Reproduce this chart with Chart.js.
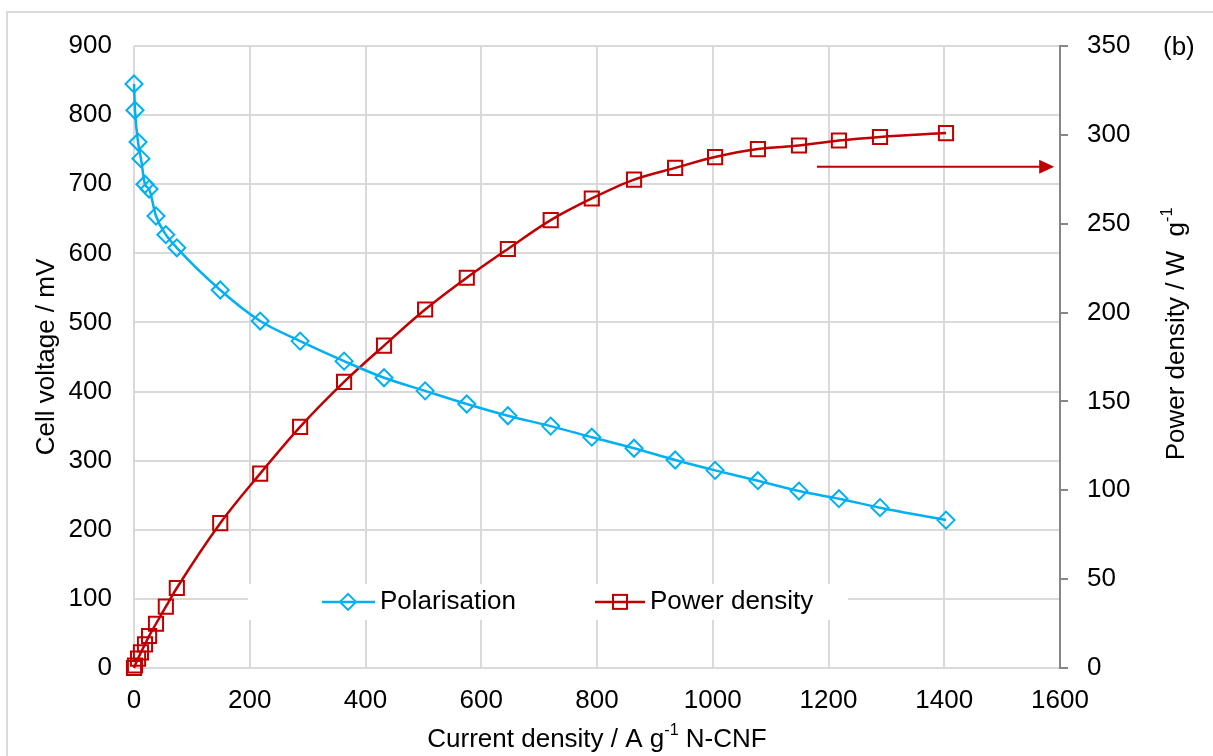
<!DOCTYPE html>
<html>
<head>
<meta charset="utf-8">
<script src="https://cdn.jsdelivr.net/npm/chart.js@4/dist/chart.umd.min.js"></script>
<style>
  body{margin:0;background:#fff;}
  canvas{display:block;}
</style>
</head>
<body>
<canvas id="chart" width="1213" height="756"></canvas>
<script>
// values
const currentDensity = [0, 1.7, 7, 12, 19, 26, 38, 55, 74, 149, 218, 287, 363, 432, 503, 575, 646, 720, 791, 864, 935, 1004, 1078, 1149, 1218, 1289, 1403];
const cellVoltage = [845, 807, 761, 737, 700, 693, 654, 627, 608, 547, 502, 473, 444, 420, 401, 382, 365, 350, 334, 318, 301, 286, 271, 256, 245, 232, 214];
const powerDensity = [0, 1.4, 5.3, 8.8, 13.3, 18.0, 24.9, 34.5, 45, 81.5, 109.4, 135.7, 161, 181.4, 201.7, 219.6, 235.8, 252, 264.2, 274.8, 281.4, 287.5, 292, 294, 296.8, 298.8, 301];

const xTicks = [0, 1600, 200];
const yTicks = [0, 900, 100];
const y1Ticks = [0, 350, 50];

const seriesNames = ["Polarisation", "Power density"];
const blue = "#00b0f0";
const red = "#c00000";
const font = "'Liberation Sans', Arial, sans-serif";
const fs = 26;

// arrow points to the right axis (x from / to, on right-axis value)
const arrowX = [1180, 1590];
const arrowY = 282;

function pts(ys){
    return currentDensity.map((x, i) => ({x: x, y: ys[i]}));
}

// text with "-1" superscript parts, centred on origin
function drawRich(ctx, parts, size){
    let total = 0;
    parts.forEach(p => {
        ctx.font = (p.sup ? size*0.62 : size) + "px " + font;
        total += ctx.measureText(p.t).width;
    });
    let x = -total/2;
    parts.forEach(p => {
        ctx.font = (p.sup ? size*0.62 : size) + "px " + font;
        ctx.fillText(p.t, x, p.sup ? -size*0.36 : 0);
        x += ctx.measureText(p.t).width;
    });
}

const extras = {
    id: "extras",
    beforeDraw(chart){
        const ctx = chart.ctx;
        ctx.save();
        ctx.fillStyle = "#fff";
        ctx.fillRect(0, 0, chart.width, chart.height);
        ctx.strokeStyle = "#d9d9d9";
        ctx.lineWidth = 2;
        ctx.strokeRect(7, 12, chart.width + 20, chart.height + 20);
        ctx.restore();
    },
    beforeDatasetsDraw(chart){
        const ctx = chart.ctx;
        const y = chart.scales.y;
        ctx.save();
        // legend box inside plot
        const ly = y.getPixelForValue(100) + 3;
        ctx.fillStyle = "#fff";
        ctx.fillRect(248, ly - 18, 600, 36);
        ctx.font = fs + "px " + font;
        ctx.textBaseline = "middle";
        ctx.lineWidth = 2.5;
        // polarisation item
        ctx.strokeStyle = blue;
        ctx.beginPath(); ctx.moveTo(322, ly); ctx.lineTo(375, ly); ctx.stroke();
        ctx.lineWidth = 2;
        ctx.beginPath();
        ctx.moveTo(348, ly - 8); ctx.lineTo(356, ly); ctx.lineTo(348, ly + 8); ctx.lineTo(340, ly); ctx.closePath();
        ctx.stroke();
        ctx.fillStyle = "#000";
        ctx.fillText(seriesNames[0], 380, ly);
        // power density item
        ctx.strokeStyle = red;
        ctx.lineWidth = 2.5;
        ctx.beginPath(); ctx.moveTo(595, ly); ctx.lineTo(645, ly); ctx.stroke();
        ctx.lineWidth = 2;
        ctx.strokeRect(613, ly - 7, 14, 14);
        ctx.fillStyle = "#000";
        ctx.fillText(seriesNames[1], 650, ly);
        ctx.restore();
    },
    afterDraw(chart){
        const ctx = chart.ctx;
        const x = chart.scales.x;
        const y1 = chart.scales.y1;
        const area = chart.chartArea;
        ctx.save();
        // arrow
        const ay = y1.getPixelForValue(arrowY);
        const ax0 = x.getPixelForValue(arrowX[0]);
        const ax1 = x.getPixelForValue(arrowX[1]);
        ctx.strokeStyle = red;
        ctx.fillStyle = red;
        ctx.lineWidth = 2;
        ctx.beginPath(); ctx.moveTo(ax0, ay); ctx.lineTo(ax1 - 12, ay); ctx.stroke();
        ctx.beginPath();
        ctx.moveTo(ax1, ay); ctx.lineTo(ax1 - 15, ay - 7); ctx.lineTo(ax1 - 15, ay + 7); ctx.closePath();
        ctx.fill();
        // axis titles with superscripts
        ctx.fillStyle = "#000";
        ctx.textBaseline = "middle";
        ctx.textAlign = "left";
        ctx.save();
        ctx.translate((area.left + area.right)/2, 740);
        drawRich(ctx, [{t:"Current density / A g"}, {t:"-1", sup:true}, {t:" N-CNF"}], fs);
        ctx.restore();
        ctx.save();
        ctx.translate(1177, 334);
        ctx.rotate(-Math.PI/2);
        drawRich(ctx, [{t:"Power density / W  g"}, {t:"-1", sup:true}], fs);
        ctx.restore();
        // panel label
        ctx.font = fs + "px " + font;
        ctx.fillText("(b)", 1163, 48);
        ctx.restore();
    }
};

new Chart(document.getElementById("chart"), {
    type: "scatter",
    data: {
        datasets: [{
            label: seriesNames[0],
            data: pts(cellVoltage),
            yAxisID: "y",
            showLine: true,
            clip: false,
            borderColor: blue,
            borderWidth: 2.5,
            backgroundColor: "rgba(0,0,0,0)",
            pointStyle: "rectRot",
            pointRadius: 8.5,
            pointBorderWidth: 2,
            pointBorderColor: blue,
            cubicInterpolationMode: "monotone"
        },{
            label: seriesNames[1],
            data: pts(powerDensity),
            yAxisID: "y1",
            showLine: true,
            clip: false,
            borderColor: red,
            borderWidth: 2.5,
            backgroundColor: "rgba(0,0,0,0)",
            pointStyle: "rect",
            pointRadius: 10,
            pointBorderWidth: 2,
            pointBorderColor: red,
            cubicInterpolationMode: "monotone"
        }]
    },
    options: {
        responsive: false,
        animation: false,
        layout: {padding: {top: 46, left: 0, right: 0, bottom: 0}},
        plugins: {legend: {display: false}, tooltip: {enabled: false}},
        scales: {
            x: {
                type: "linear",
                min: xTicks[0], max: xTicks[1],
                afterFit(s){ s.height = 88; },
                ticks: {stepSize: xTicks[2], color: "#000", font: {family: font, size: fs}, padding: 17,
                        callback: v => String(v)},
                grid: {color: "#d9d9d9", lineWidth: 2, drawTicks: false},
                border: {display: false}
            },
            y: {
                position: "left",
                min: yTicks[0], max: yTicks[1],
                afterFit(s){ s.width = 134; },
                ticks: {stepSize: yTicks[2], color: "#000", font: {family: font, size: fs}, padding: 22},
                grid: {color: "#d9d9d9", lineWidth: 2, drawTicks: false},
                border: {display: false},
                title: {display: true, text: "Cell voltage / mV", color: "#000", font: {family: font, size: fs}, padding: {top: 31, bottom: 0}}
            },
            y1: {
                position: "right",
                min: y1Ticks[0], max: y1Ticks[1],
                afterFit(s){ s.width = 153; },
                ticks: {stepSize: y1Ticks[2], color: "#000", font: {family: font, size: fs}, padding: 19},
                grid: {drawOnChartArea: false, color: "#868686", lineWidth: 2, tickLength: 8},
                border: {display: true, color: "#868686", width: 2}
            }
        }
    },
    plugins: [extras]
});
</script>
</body>
</html>
